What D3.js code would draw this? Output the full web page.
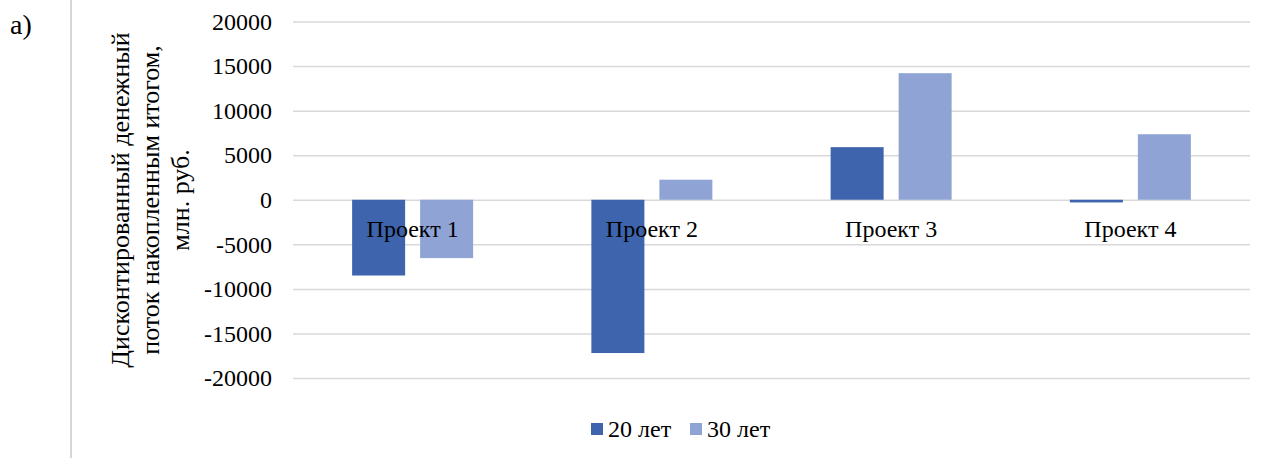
<!DOCTYPE html>
<html>
<head>
<meta charset="utf-8">
<script src="https://cdn.jsdelivr.net/npm/d3@7"></script>
<style>
  html, body { margin: 0; padding: 0; background: #fff; }
</style>
</head>
<body>
<svg id="chart" width="1269" height="458"></svg>
<script>
// Discounted cumulative cash flow by project, million rubles
const categories = ["Проект 1", "Проект 2", "Проект 3", "Проект 4"];
const seriesNames = ["20 лет", "30 лет"];
const values20 = [-8500, -17200, 5900, -300];
const values30 = [-6550, 2250, 14200, 7350];
const yTicks = [-20000, -15000, -10000, -5000, 0, 5000, 10000, 15000, 20000];
const axisTitle = ["Дисконтированный денежный", "поток накопленным итогом,", "млн. руб."];
const colors = ["#3d64ad", "#8fa4d5"];

const FONT = '"Liberation Serif", "Times New Roman", serif';
const svg = d3.select("#chart");
const plot = { left: 293, right: 1250, top: 21.5, bottom: 378 };

const x = d3.scaleBand().domain(categories).range([plot.left, plot.right]).paddingInner(0).paddingOuter(0);
const y = d3.scaleLinear().domain([-20000, 20000]).range([plot.bottom, plot.top]);

// Cell border on the left
svg.append("line")
  .attr("x1", 71).attr("x2", 71).attr("y1", 0).attr("y2", 458)
  .attr("stroke", "#d6d6d6").attr("stroke-width", 2);

svg.append("text").attr("x", 10).attr("y", 34)
  .style("font-family", FONT).style("font-size", "28px").text("а)");

// Gridlines and tick labels (plain hyphen for negatives)
const yAxis = d3.axisLeft(y).tickValues(yTicks).tickSize(-(plot.right - plot.left)).tickPadding(21).tickFormat(d => String(d));
const gy = svg.append("g").attr("transform", `translate(${plot.left},0)`).call(yAxis);
gy.select(".domain").remove();
gy.selectAll(".tick line").attr("stroke", "#d9d9d9").attr("stroke-width", 1.5);
gy.selectAll(".tick text").attr("fill", "#000")
  .style("font-family", FONT).style("font-size", "24px");

// Bars
const barW = 53, gap = 15;
const series = [values20, values30];
series.forEach((vals, si) => {
  svg.append("g").selectAll("rect").data(vals).join("rect")
    .attr("x", (d, i) => x(categories[i]) + x.bandwidth() / 2 - barW - gap / 2 + si * (barW + gap))
    .attr("width", barW)
    .attr("y", d => Math.min(y(d), y(0)))
    .attr("height", d => Math.abs(y(d) - y(0)))
    .attr("fill", colors[si]);
});

// Category labels sit just below the zero line
svg.append("g").selectAll("text").data(categories).join("text")
  .attr("x", d => x(d) + x.bandwidth() / 2)
  .attr("y", y(0) + 37)
  .attr("text-anchor", "middle")
  .style("font-family", FONT).style("font-size", "24px")
  .text(d => d);

// Vertical axis title
const title = svg.append("text")
  .attr("transform", "rotate(-90)")
  .attr("text-anchor", "middle")
  .style("font-family", FONT).style("font-size", "26px");
title.selectAll("tspan").data(axisTitle).join("tspan")
  .attr("x", -200)
  .attr("y", (d, i) => 129 + i * 30)
  .text(d => d);

// Legend
const legend = svg.append("g");
const legendItems = [{ x: 591, name: seriesNames[0], c: colors[0] }, { x: 690, name: seriesNames[1], c: colors[1] }];
legendItems.forEach(it => {
  legend.append("rect").attr("x", it.x).attr("y", 423).attr("width", 12).attr("height", 12).attr("fill", it.c);
  legend.append("text").attr("x", it.x + 17).attr("y", 437)
    .style("font-family", FONT).style("font-size", "24px").text(it.name);
});
</script>
</body>
</html>
